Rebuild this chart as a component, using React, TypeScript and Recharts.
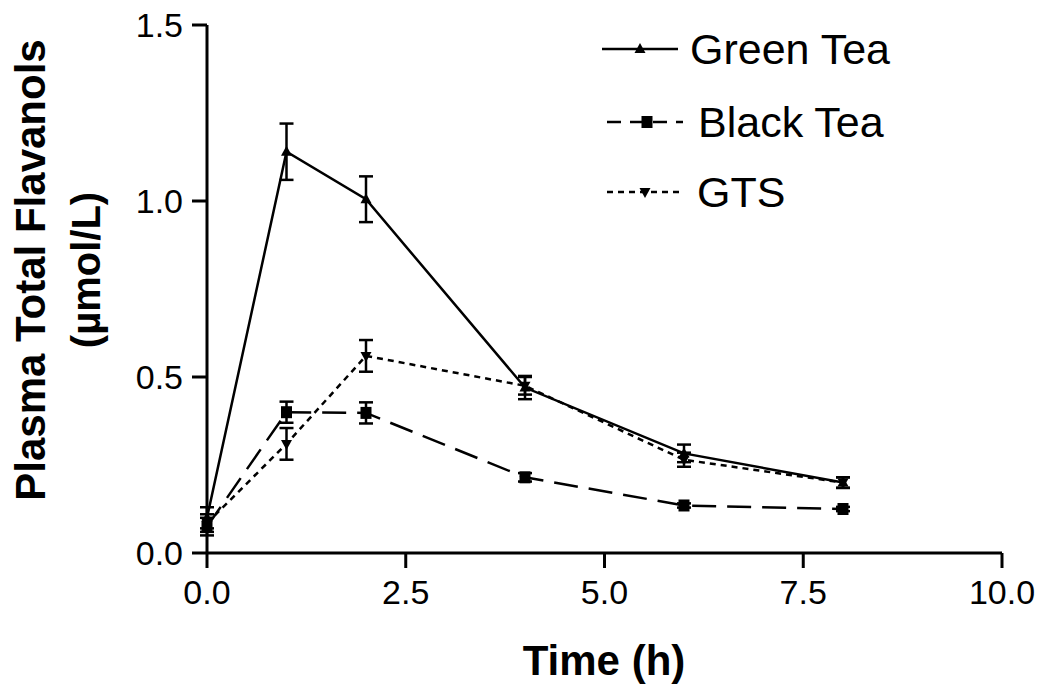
import React from 'react';
import { LineChart, Line, XAxis, YAxis, ErrorBar, Label } from 'recharts';

const times = [0, 1, 2, 4, 6, 8];
const greenTea = [0.1, 1.14, 1.005, 0.47, 0.283, 0.2];
const greenTeaErr = [0.03, 0.08, 0.065, 0.033, 0.025, 0.015];
const blackTea = [0.075, 0.4, 0.398, 0.215, 0.135, 0.125];
const blackTeaErr = [0.025, 0.03, 0.03, 0.012, 0.006, 0.006];
const gts = [0.085, 0.31, 0.56, 0.475, 0.265, 0.2];
const gtsErr = [0.025, 0.045, 0.045, 0.025, 0.02, 0.015];
const xTicks = [0, 2.5, 5, 7.5, 10];
const yTicks = [0, 0.5, 1, 1.5];
const seriesNames = ['Green Tea', 'Black Tea', 'GTS'];

const data = times.map((t, i) => ({
  time: t,
  green: greenTea[i],
  greenErr: greenTeaErr[i],
  black: blackTea[i],
  blackErr: blackTeaErr[i],
  gts: gts[i],
  gtsErr: gtsErr[i],
}));

const FONT = '"Liberation Sans", Arial, sans-serif';

const TriUp = (props: any) => {
  const { cx, cy } = props;
  if (cx == null || cy == null) return null;
  return <polygon points={`${cx},${cy - 6} ${cx - 5.5},${cy + 4} ${cx + 5.5},${cy + 4}`} fill="#000" />;
};
const Square = (props: any) => {
  const { cx, cy } = props;
  if (cx == null || cy == null) return null;
  return <rect x={cx - 5.5} y={cy - 6} width={11} height={12} fill="#000" />;
};
const TriDown = (props: any) => {
  const { cx, cy } = props;
  if (cx == null || cy == null) return null;
  return <polygon points={`${cx},${cy + 6} ${cx - 5.5},${cy - 4} ${cx + 5.5},${cy - 4}`} fill="#000" />;
};

// legend drawn as overlay so the plot keeps its full height
const LegendBox = () => {
  const rows = [
    { y: 29, dash: undefined, marker: TriUp, x1: 2, x2: 78, mx: 40, tx: 90 },
    { y: 102, dash: '14 9', marker: Square, x1: 7, x2: 83, mx: 47, tx: 98 },
    { y: 172, dash: '6 5', marker: TriDown, x1: 7, x2: 80, mx: 45, tx: 97 },
  ];
  return (
    <svg width={330} height={200} style={{ overflow: 'visible', display: 'block' }}>
      {rows.map((r, i) => {
        const M = r.marker;
        return (
          <g key={seriesNames[i]}>
            <line x1={r.x1} x2={r.x2} y1={r.y} y2={r.y} stroke="#000" strokeWidth={2.5} strokeDasharray={r.dash} />
            <M cx={r.mx} cy={r.y} />
            <text x={r.tx} y={r.y + 15} fontSize={43} fontFamily={FONT} fill="#000">
              {seriesNames[i]}
            </text>
          </g>
        );
      })}
    </svg>
  );
};

const YTitle = () => {
  const cy = 270;
  return (
    <g fontFamily={FONT} fontWeight="bold" fill="#000">
      <text x={45} y={cy} transform={`rotate(-90 45 ${cy})`} textAnchor="middle" fontSize={42}>
        Plasma Total Flavanols
      </text>
      <text x={100} y={cy} transform={`rotate(-90 100 ${cy})`} textAnchor="middle" fontSize={40}>
        (µmol/L)
      </text>
    </g>
  );
};

const XTitle = () => (
  <text x={604} y={675} textAnchor="middle" fontFamily={FONT} fontWeight="bold" fontSize={42} fill="#000">
    Time (h)
  </text>
);

export default function App() {
  return (
    <div style={{ position: 'absolute', left: 0, top: 0, width: 1044, height: 688, background: '#fff' }}>
      <LineChart width={1044} height={688} data={data} margin={{ top: 25, right: 42, bottom: 0, left: 0 }}>
        <XAxis
          dataKey="time"
          type="number"
          domain={[0, 10]}
          ticks={xTicks}
          tickFormatter={(v: number) => v.toFixed(1)}
          height={135}
          stroke="#000"
          strokeWidth={3}
          tickSize={15}
          tickMargin={12}
          tick={{ fill: '#000', fontSize: 34, fontFamily: FONT }}
          interval={0}
        >
          <Label content={<XTitle />} />
        </XAxis>
        <YAxis
          type="number"
          domain={[0, 1.5]}
          ticks={yTicks}
          tickFormatter={(v: number) => v.toFixed(1)}
          width={207}
          stroke="#000"
          strokeWidth={3}
          tickSize={15}
          tickMargin={9}
          tick={{ fill: '#000', fontSize: 34, fontFamily: FONT }}
          interval={0}
        >
          <Label content={<YTitle />} />
        </YAxis>
        <Line
          dataKey="green"
          stroke="#000"
          strokeWidth={2.5}
          dot={<TriUp />}
          activeDot={false}
          isAnimationActive={false}
        >
          <ErrorBar dataKey="greenErr" width={7} stroke="#000" strokeWidth={2.5} direction="y" />
        </Line>
        <Line
          dataKey="black"
          stroke="#000"
          strokeWidth={2.5}
          strokeDasharray="24 11"
          dot={<Square />}
          activeDot={false}
          isAnimationActive={false}
        >
          <ErrorBar dataKey="blackErr" width={7} stroke="#000" strokeWidth={2.5} direction="y" />
        </Line>
        <Line
          dataKey="gts"
          stroke="#000"
          strokeWidth={2.5}
          strokeDasharray="6 5"
          dot={<TriDown />}
          activeDot={false}
          isAnimationActive={false}
        >
          <ErrorBar dataKey="gtsErr" width={7} stroke="#000" strokeWidth={2.5} direction="y" />
        </Line>
      </LineChart>
      <div style={{ position: 'absolute', left: 600, top: 20 }}>
        <LegendBox />
      </div>
    </div>
  );
}
